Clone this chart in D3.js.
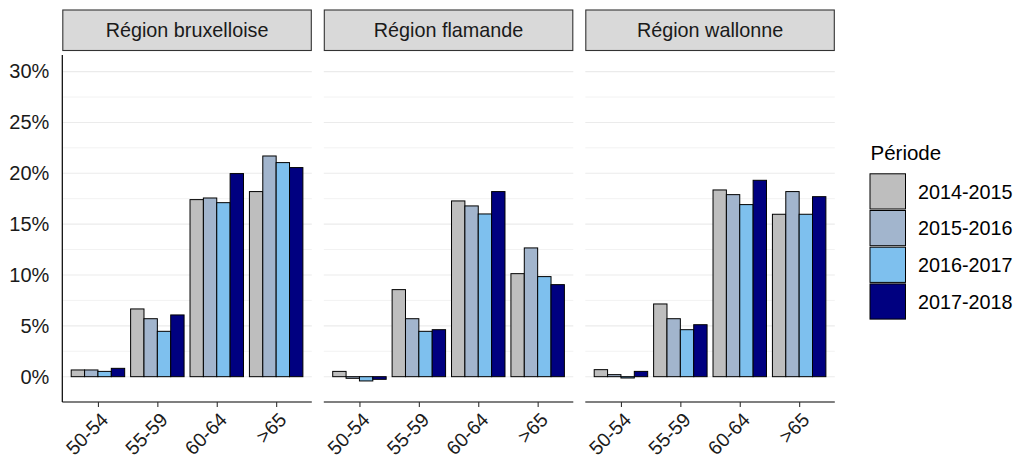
<!DOCTYPE html>
<html>
<head>
<meta charset="utf-8">
<script src="https://cdn.jsdelivr.net/npm/d3@7"></script>
<style>
  html, body { margin: 0; padding: 0; background: #fff; }
  svg { display: block; font-family: "Liberation Sans", Arial, sans-serif; }
</style>
</head>
<body>
<svg id="chart" width="1015" height="456"></svg>
<script>
const regions = ["Région bruxelloise", "Région flamande", "Région wallonne"];
const ageGroups = ["50-54", "55-59", "60-64", ">65"];
const periods = ["2014-2015", "2015-2016", "2016-2017", "2017-2018"];
const periodColors = ["#BEBEBE", "#A2B5CD", "#7EC0EE", "#000080"];
const yTicks = [0, 5, 10, 15, 20, 25, 30];
const yMinorTicks = [2.5, 7.5, 12.5, 17.5, 22.5, 27.5];
const legendTitle = "Période";

// values in %, [age group][period]
const bruxelles = [
  [0.66, 0.66, 0.52, 0.82],
  [6.66, 5.70, 4.46, 6.07],
  [17.41, 17.57, 17.11, 19.97],
  [18.20, 21.70, 21.05, 20.56]
];
const flandre = [
  [0.52, -0.16, -0.42, -0.26],
  [8.56, 5.70, 4.46, 4.62],
  [17.28, 16.79, 16.00, 18.20],
  [10.13, 12.66, 9.84, 9.05]
];
const wallonie = [
  [0.69, 0.20, -0.13, 0.52],
  [7.15, 5.70, 4.62, 5.11],
  [18.36, 17.90, 16.92, 19.31],
  [15.97, 18.20, 15.97, 17.70]
];
const regionValues = [bruxelles, flandre, wallonie];

const svg = d3.select("#chart");

const panelW = 249.5, panelGap = 12, panel0 = 62.3;
const stripTop = 10, stripBottom = 50.5;
const plotTop = 55, plotBottom = 402;

const y = d3.scaleLinear().domain([-2.49, 31.63]).range([plotBottom, plotTop]);
const color = d3.scaleOrdinal().domain(periods).range(periodColors);

regions.forEach((reg, ri) => {
  const left = panel0 + ri * (panelW + panelGap);
  const g = svg.append("g").attr("transform", `translate(${left},0)`);

  // discrete x positions with ggplot-like expansion (0.6 units each side)
  const unit = panelW / 4.2;
  const xp = d3.scalePoint().domain(ageGroups).range([0.6 * unit, panelW - 0.6 * unit]);
  const xInner = d3.scaleBand().domain(periods).range([-0.45 * unit, 0.45 * unit]).padding(0);

  // grid
  g.selectAll("line.minor").data(yMinorTicks).join("line")
    .attr("x1", 0).attr("x2", panelW)
    .attr("y1", d => y(d)).attr("y2", d => y(d))
    .attr("stroke", "#F2F2F2").attr("stroke-width", 1);
  g.selectAll("line.major").data(yTicks).join("line")
    .attr("x1", 0).attr("x2", panelW)
    .attr("y1", d => y(d)).attr("y2", d => y(d))
    .attr("stroke", "#EBEBEB").attr("stroke-width", 1.1);

  // strip
  g.append("rect").attr("x", 0.5).attr("y", stripTop)
    .attr("width", panelW - 1).attr("height", stripBottom - stripTop)
    .attr("fill", "#D9D9D9").attr("stroke", "#333333").attr("stroke-width", 1.1);
  g.append("text").attr("x", panelW / 2).attr("y", (stripTop + stripBottom) / 2)
    .attr("text-anchor", "middle").attr("dominant-baseline", "central")
    .attr("font-size", 19.8).attr("fill", "#1A1A1A").text(reg);

  // bars
  const vals = regionValues[ri];
  ageGroups.forEach((ag, ai) => {
    const cx = xp(ag);
    g.selectAll(null).data(periods.map((p, pi) => ({ p, v: vals[ai][pi] }))).join("rect")
      .attr("x", d => cx + xInner(d.p))
      .attr("width", xInner.bandwidth())
      .attr("y", d => y(Math.max(0, d.v)))
      .attr("height", d => Math.abs(y(d.v) - y(0)))
      .attr("fill", d => color(d.p))
      .attr("stroke", "#000").attr("stroke-width", 1);
  });

  // x axis
  const xAxis = d3.axisBottom(xp).tickSize(5).tickPadding(4);
  const ax = g.append("g").attr("transform", `translate(0,${plotBottom})`).call(xAxis);
  ax.select(".domain").attr("stroke", "#000").attr("stroke-width", 1.2).attr("d", `M0,0H${panelW}`);
  ax.selectAll(".tick line").attr("stroke", "#333").attr("stroke-width", 1.1);
  ax.selectAll(".tick text")
    .attr("font-size", 19.5).attr("fill", "#1A1A1A")
    .attr("text-anchor", "end")
    .attr("dy", null).attr("y", null)
    .attr("transform", "translate(11,19) rotate(-45)")
    .attr("font-family", "Liberation Sans, Arial, sans-serif");

  if (ri === 0) {
    const yAxis = d3.axisLeft(y).tickValues(yTicks).tickSize(0).tickPadding(13)
      .tickFormat(d => d + "%");
    const ay = g.append("g").call(yAxis);
    ay.select(".domain").attr("stroke", "#000").attr("stroke-width", 1.2)
      .attr("d", `M0,${plotTop}V${plotBottom}`);
    ay.selectAll(".tick text").attr("font-size", 20).attr("fill", "#1A1A1A")
      .attr("font-family", "Liberation Sans, Arial, sans-serif");
  }
});

// legend
const lg = svg.append("g").attr("transform", "translate(869.5,0)");
lg.append("text").attr("x", 1).attr("y", 160).attr("font-size", 20.5).attr("fill", "#000").text(legendTitle);
const keyH = 36.7, keyTop = 173.3, keyW = 36.5;
lg.selectAll("rect.key").data(periods).join("rect")
  .attr("x", 0.5).attr("y", (d, i) => keyTop + i * keyH + 0.5)
  .attr("width", keyW - 1).attr("height", keyH - 1.5)
  .attr("fill", d => color(d)).attr("stroke", "#000").attr("stroke-width", 1);
lg.selectAll("text.lab").data(periods).join("text")
  .attr("x", 48.5).attr("y", (d, i) => keyTop + i * keyH + keyH / 2)
  .attr("dominant-baseline", "central").attr("font-size", 19.8).attr("fill", "#000")
  .text(d => d);
</script>
</body>
</html>
